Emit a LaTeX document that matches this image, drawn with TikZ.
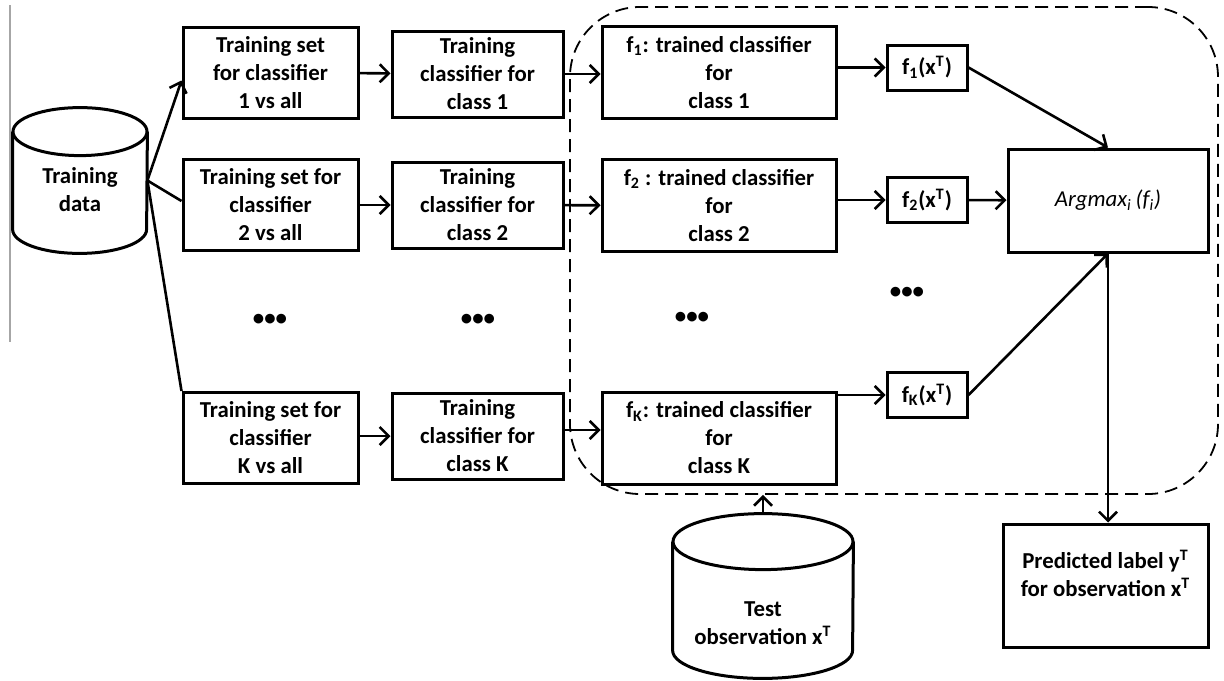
\documentclass[tikz,border=0pt]{standalone}
\usepackage{fontspec}
\setmainfont{Carlito}
\usetikzlibrary{arrows.meta}

% text block with extra room above (#1) or below (#2)
\newcommand{\padtext}[3]{\raisebox{0pt}[\dimexpr\height+#1\relax][\dimexpr\depth+#2\relax]{\begin{tabular}{@{}c@{}}#3\end{tabular}}}
% drum outline round a rectangular node
\newcommand{\drawdrum}[3]{%
  \draw[line width=1.5pt] ([yshift=-#3]#1.north) ellipse [x radius=#2, y radius=#3];
  \draw[line width=1.5pt] ([yshift=-#3]#1.north west) -- ([yshift=#3]#1.south west)
    arc [start angle=180, end angle=360, x radius=#2, y radius=#3] -- ([yshift=-#3]#1.north east);}

\begin{document}
\begin{tikzpicture}[x=0.5pt, y=-0.5pt,
    font=\fontsize{11.4}{14}\selectfont\bfseries,
    box/.style={draw, line width=1.5pt, align=center, inner sep=0pt},
    store/.style={inner sep=0pt},
    link/.style={line width=1.3pt, -{Straight Barb[length=4.5pt,width=9pt,line width=1.3pt]}},
    plain/.style={line width=1.3pt},
    dots/.style={inner sep=0pt}]
  \useasboundingbox (0,0) rectangle (1224,680);
  \draw[gray!70, line width=0.6pt] (10,5) -- (10,342);

  % frame round the testing part
  \node[draw, dashed, dash pattern=on 6.5pt off 3.5pt, line width=0.9pt, rounded corners=35pt,
        minimum width=324pt, minimum height=243.5pt] (testing) at (894,250.5) {};

  % data stores
  \node[store, minimum width=67pt, minimum height=72.5pt] (train) at (80,180.5) {\padtext{11.5pt}{0pt}{Training\\data}};
  \node[store, minimum width=90pt, minimum height=82pt] (test) at (763,596) {\padtext{29pt}{0pt}{Test\\observation x\textsuperscript{T}}};
  \drawdrum{train}{33.5pt}{12pt}
  \drawdrum{test}{45pt}{14pt}

  % training sets
  \node[box, minimum width=87.5pt, minimum height=45.5pt] (set1) at (270.5,72.5) {Training set\\for classifier\\1 vs all};
  \node[box, minimum width=87.5pt, minimum height=45.5pt] (set2) at (270.5,205) {Training set for\\classifier\\2 vs all};
  \node[box, minimum width=87.5pt, minimum height=45.5pt] (setK) at (270.5,438) {Training set for\\classifier\\K vs all};

  % training steps
  \node[box, minimum width=85.5pt, minimum height=43pt] (train1) at (477.5,74) {Training\\classifier for\\class 1};
  \node[box, minimum width=85.5pt, minimum height=43pt] (train2) at (477.5,205) {Training\\classifier for\\class 2};
  \node[box, minimum width=85.5pt, minimum height=43pt] (trainK) at (477.5,436) {Training\\classifier for\\class K};

  % trained classifiers
  \node[box, minimum width=117pt, minimum height=46pt] (clf1) at (719,72.5) {f\textsubscript{1}: trained classifier\\for\\class 1};
  \node[box, minimum width=117pt, minimum height=46pt] (clf2) at (719,205.5) {f\textsubscript{2} : trained classifier\\for\\class 2};
  \node[box, minimum width=117pt, minimum height=46pt] (clfK) at (719,438) {f\textsubscript{K}: trained classifier\\for\\class K};

  % scores
  \node[box, minimum width=40pt, minimum height=22.5pt] (score1) at (927,67.5) {f\textsubscript{1}(x\textsuperscript{T})};
  \node[box, minimum width=40pt, minimum height=22.5pt] (score2) at (927,200) {f\textsubscript{2}(x\textsuperscript{T})};
  \node[box, minimum width=40pt, minimum height=22.5pt] (scoreK) at (927,395) {f\textsubscript{K}(x\textsuperscript{T})};

  \node[box, minimum width=100pt, minimum height=51.5pt] (argmax) at (1108,200.5) {\mdseries\itshape Argmax\textsubscript{i}\,(f\textsubscript{i})};
  \node[box, minimum width=102.5pt, minimum height=61.5pt] (pred) at (1105.5,585.5) {\padtext{0pt}{8.5pt}{Predicted label y\textsuperscript{T}\\for observation x\textsuperscript{T}}};

  % dots
  \node[dots] (dotsA) at (270,320) {•••};
  \node[dots] (dotsB) at (478,320) {•••};
  \node[dots] (dotsC) at (692,318) {•••};
  \node[dots] (dotsD) at (907,293) {•••};

  % connectors
  \draw[link] (train.east) -- ([yshift=-4pt]set1.west);
  \draw[plain] (train.east) -- ([yshift=2pt]set2.west);
  \draw[plain] (train.east) -- (setK.north west);
  \draw[link] (set1) -- (train1);
  \draw[link] (set2) -- (train2);
  \draw[link] (setK.east |- trainK) -- (trainK);
  \draw[link] (train1.east) -- (clf1.west |- train1);
  \draw[link] (train2) -- (clf2);
  \draw[link] (trainK.east |- 0,430) -- (clfK.west |- 0,430);
  \draw[link] (clf1.east |- score1) -- (score1);
  \draw[link] (clf2.east |- score2) -- (score2);
  \draw[link] (clfK.east |- scoreK) -- (scoreK);
  \draw[link] (score1.east) -- (argmax.north);
  \draw[link] (score2) -- (argmax);
  \draw[link] (scoreK.east) -- (argmax.south);
  \draw[link] (argmax.south) -- (argmax.south |- pred.north);
  \draw[link] (test.north) -- (test.north |- testing.south);
\end{tikzpicture}
\end{document}
